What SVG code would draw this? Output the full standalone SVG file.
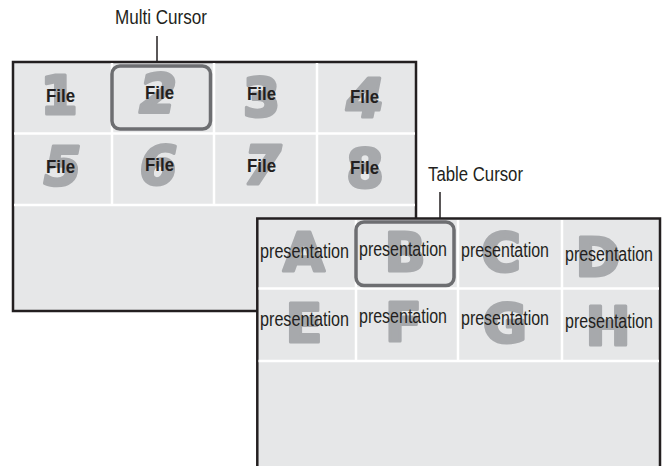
<svg xmlns="http://www.w3.org/2000/svg" width="667" height="466" viewBox="0 0 667 466">
<style>
.win{fill:#e6e7e8;stroke:#231f20;stroke-width:2.5}
.sep{stroke:#ffffff;stroke-width:2.5}
.cur{fill:none;stroke:#6d6e71;stroke-width:3.5}
.big{font-family:"DejaVu Sans","Liberation Sans",sans-serif;font-weight:bold;font-size:54px;fill:#a7a9ac;stroke:#a7a9ac;stroke-width:3;stroke-linejoin:round;text-anchor:middle}
.file{font-family:"Liberation Sans",sans-serif;font-weight:bold;font-size:19px;fill:#231f20}
.pres{font-family:"Liberation Sans",sans-serif;font-size:20px;fill:#231f20}
.lbl{font-family:"Liberation Sans",sans-serif;font-size:20.5px;fill:#231f20}
.ln{stroke:#231f20;stroke-width:1.5}
</style>
<rect width="667" height="466" fill="#ffffff"/>
<g id="multi-window">
<rect class="win" x="13" y="62" width="403" height="249"/>
<line class="sep" x1="112" y1="63" x2="112" y2="205"/>
<line class="sep" x1="214" y1="63" x2="214" y2="205"/>
<line class="sep" x1="317" y1="63" x2="317" y2="205"/>
<line class="sep" x1="14" y1="133.5" x2="415" y2="133.5"/>
<line class="sep" x1="14" y1="205" x2="415" y2="205"/>
<text class="big" x="59" y="114">1</text>
<text class="big" x="158" y="112" font-style="italic">2</text>
<text class="big" x="261.5" y="116">3</text>
<text class="big" x="365" y="117" font-style="italic">4</text>
<text class="big" x="62.5" y="185" font-style="italic">5</text>
<text class="big" x="158.5" y="184" font-style="italic">6</text>
<text class="big" x="262.5" y="184" font-style="italic">7</text>
<text class="big" x="365" y="187">8</text>
<text class="file" x="46" y="102" textLength="29" lengthAdjust="spacingAndGlyphs">File</text>
<text class="file" x="145" y="99" textLength="29" lengthAdjust="spacingAndGlyphs">File</text>
<text class="file" x="247" y="100" textLength="29" lengthAdjust="spacingAndGlyphs">File</text>
<text class="file" x="350" y="103" textLength="29" lengthAdjust="spacingAndGlyphs">File</text>
<text class="file" x="46" y="173" textLength="29" lengthAdjust="spacingAndGlyphs">File</text>
<text class="file" x="145" y="171" textLength="29" lengthAdjust="spacingAndGlyphs">File</text>
<text class="file" x="247" y="172" textLength="29" lengthAdjust="spacingAndGlyphs">File</text>
<text class="file" x="350" y="174" textLength="29" lengthAdjust="spacingAndGlyphs">File</text>
<rect id="multi-cursor" class="cur" x="112" y="66" width="98.5" height="63" rx="8"/>
</g>
<g id="table-window">
<rect class="win" x="257.3" y="218.5" width="402.7" height="260"/>
<line class="sep" x1="356" y1="220" x2="356" y2="361"/>
<line class="sep" x1="458" y1="220" x2="458" y2="361"/>
<line class="sep" x1="562" y1="220" x2="562" y2="361"/>
<line class="sep" x1="258.5" y1="288.5" x2="659" y2="288.5"/>
<line class="sep" x1="258.5" y1="361" x2="659" y2="361"/>
<text class="big" x="304" y="271">A</text>
<text class="big" x="405" y="271">B</text>
<text class="big" x="501" y="271">C</text>
<text class="big" x="598" y="276">D</text>
<text class="big" x="304" y="342">E</text>
<text class="big" x="403.5" y="341">F</text>
<text class="big" x="505" y="342">G</text>
<text class="big" x="608" y="345">H</text>
<text class="pres" x="260" y="258" textLength="89" lengthAdjust="spacingAndGlyphs">presentation</text>
<text class="pres" x="359" y="256" textLength="88" lengthAdjust="spacingAndGlyphs">presentation</text>
<text class="pres" x="461" y="257" textLength="88" lengthAdjust="spacingAndGlyphs">presentation</text>
<text class="pres" x="565" y="261" textLength="88" lengthAdjust="spacingAndGlyphs">presentation</text>
<text class="pres" x="260" y="326" textLength="89" lengthAdjust="spacingAndGlyphs">presentation</text>
<text class="pres" x="359" y="323" textLength="88" lengthAdjust="spacingAndGlyphs">presentation</text>
<text class="pres" x="461" y="325" textLength="88" lengthAdjust="spacingAndGlyphs">presentation</text>
<text class="pres" x="565" y="328" textLength="88" lengthAdjust="spacingAndGlyphs">presentation</text>
<rect id="table-cursor" class="cur" x="356" y="222" width="98" height="63.5" rx="8"/>
</g>
<g id="labels">
<text class="lbl" x="115" y="24" textLength="92" lengthAdjust="spacingAndGlyphs">Multi Cursor</text>
<text class="lbl" x="428" y="181" textLength="95" lengthAdjust="spacingAndGlyphs">Table Cursor</text>
</g>
<g id="connectors">
<line class="ln" x1="157" y1="36" x2="157" y2="62"/>
<line class="ln" x1="440" y1="192" x2="440" y2="218"/>
</g>
</svg>
